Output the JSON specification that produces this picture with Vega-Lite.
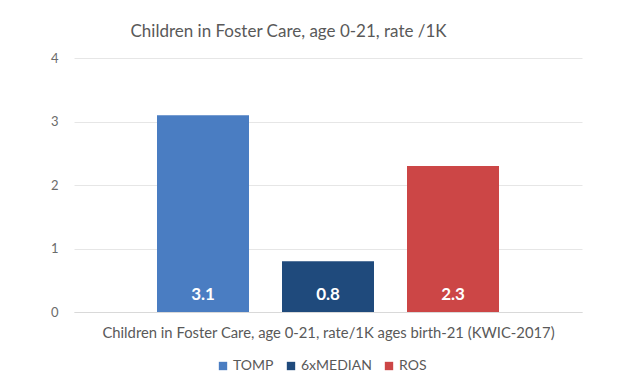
{
  "$schema": "https://vega.github.io/schema/vega-lite/v6.json",
  "autosize": "none",
  "width": 508,
  "height": 254,
  "padding": {"left": 74, "top": 58, "right": 44, "bottom": 71},
  "background": "white",
  "config": {
    "font": "Lato",
    "view": {"stroke": null}
  },
  "title": {
    "text": "Children in Foster Care, age 0-21, rate /1K",
    "anchor": "start",
    "dx": 80,
    "offset": 11,
    "fontSize": 17,
    "fontWeight": "normal",
    "color": "#595959",
    "font": "Lato"
  },
  "data": {
    "values": [
      {"series": "TOMP", "value": 3.1, "label": "3.1"},
      {"series": "6xMEDIAN", "value": 0.8, "label": "0.8"},
      {"series": "ROS", "value": 2.3, "label": "2.3"}
    ]
  },
  "encoding": {
    "x": {
      "field": "series",
      "type": "nominal",
      "sort": ["TOMP", "6xMEDIAN", "ROS"],
      "scale": {"paddingInner": 0.264, "paddingOuter": 0.664},
      "axis": {
        "title": "Children in Foster Care, age 0-21, rate/1K ages birth-21 (KWIC-2017)",
        "labels": false,
        "ticks": false,
        "domainColor": "#d9d9d9",
        "titleFontSize": 14.8,
        "titleFontWeight": "normal",
        "titleColor": "#595959",
        "titlePadding": 13
      }
    }
  },
  "layer": [
    {
      "mark": {"type": "bar"},
      "encoding": {
        "y": {
          "field": "value",
          "type": "quantitative",
          "scale": {"domain": [0, 4]},
          "axis": {
            "title": null,
            "values": [0, 1, 2, 3, 4],
            "format": "d",
            "domain": false,
            "ticks": false,
            "gridColor": "#e6e6e6",
            "labelColor": "#6b6b6b",
            "labelFontSize": 13,
            "labelPadding": 16
          }
        },
        "color": {
          "field": "series",
          "type": "nominal",
          "sort": ["TOMP", "6xMEDIAN", "ROS"],
          "scale": {"domain": ["TOMP", "6xMEDIAN", "ROS"], "range": ["#4a7dc2", "#1f4a7c", "#cc4646"]},
          "legend": {
            "title": null,
            "orient": "none",
            "legendX": 142,
            "legendY": 301,
            "direction": "horizontal",
            "symbolType": "square",
            "symbolSize": 70,
            "labelFontSize": 14,
            "labelColor": "#595959",
            "labelOffset": 3,
            "columnPadding": 10
          }
        }
      }
    },
    {
      "mark": {"type": "text", "color": "white", "fontWeight": "bold", "fontSize": 17, "baseline": "alphabetic", "dy": -12},
      "encoding": {
        "y": {"datum": 0, "type": "quantitative"},
        "text": {"field": "label"}
      }
    }
  ]
}
